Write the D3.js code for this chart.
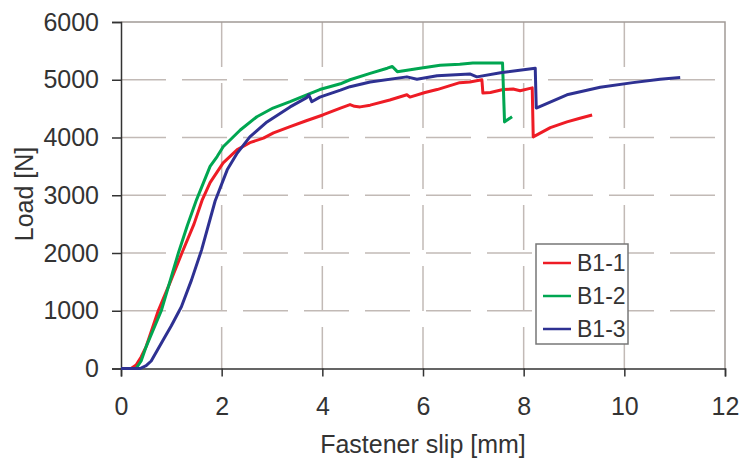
<!DOCTYPE html>
<html>
<head>
<meta charset="utf-8">
<script src="https://cdn.jsdelivr.net/npm/d3@7.9.0/dist/d3.min.js"></script>
<style>
  body { margin: 0; background: #fff; }
  svg { display: block; font-family: "Liberation Sans", Arial, sans-serif; }
  .tick text { fill: #333; font-size: 25px; }
</style>
</head>
<body>
<svg id="chart" width="742" height="459"></svg>
<script>
// series data: slip [mm] and load [N]
const seriesNames = ['B1-1', 'B1-2', 'B1-3'];
const seriesColors = ['#ee1c25', '#00a651', '#2e3192'];

const b11Slip = [0, 0.2, 0.3, 0.4, 0.5, 0.74, 0.98, 1.21, 1.45, 1.61, 1.77, 2.03, 2.31, 2.56, 2.83, 3.03, 3.36, 3.68, 4.01, 4.36, 4.55, 4.64, 4.75, 4.95, 5.34, 5.68, 5.74, 6.04, 6.28, 6.73, 6.93, 7.17, 7.19, 7.34, 7.59, 7.79, 7.93, 8.17, 8.19, 8.53, 8.86, 9.1, 9.36];
const b11Load = [0, 0, 60, 200, 380, 1000, 1500, 2000, 2500, 2910, 3220, 3560, 3790, 3910, 3990, 4080, 4190, 4290, 4390, 4510, 4570, 4540, 4530, 4560, 4650, 4740, 4700, 4780, 4830, 4950, 4960, 5000, 4770, 4780, 4830, 4840, 4810, 4860, 4010, 4170, 4270, 4330, 4390];

const b12Slip = [0, 0.3, 0.4, 0.5, 0.8, 1.14, 1.32, 1.5, 1.77, 1.91, 2.03, 2.37, 2.7, 3.02, 3.36, 3.69, 3.95, 4.36, 4.55, 4.95, 5.29, 5.39, 5.49, 5.94, 6.34, 6.73, 6.99, 7.58, 7.62, 7.65, 7.77];
const b12Load = [0, 0, 130, 380, 1000, 2000, 2480, 2920, 3500, 3670, 3840, 4130, 4360, 4510, 4620, 4740, 4830, 4930, 5000, 5110, 5200, 5230, 5140, 5200, 5250, 5270, 5290, 5290, 4270, 4290, 4360];

const b13Slip = [0, 0.38, 0.5, 0.6, 0.73, 0.86, 1.0, 1.2, 1.4, 1.6, 1.87, 2.11, 2.31, 2.56, 2.9, 3.36, 3.69, 3.73, 3.79, 3.95, 4.36, 4.55, 4.95, 5.68, 5.88, 6.28, 6.93, 7.07, 7.54, 8.23, 8.25, 8.86, 9.52, 10.17, 10.71, 11.11];
const b13Load = [0, 0, 50, 130, 330, 530, 740, 1070, 1530, 2050, 2900, 3440, 3730, 4010, 4270, 4530, 4690, 4740, 4620, 4700, 4820, 4880, 4960, 5050, 5010, 5070, 5100, 5050, 5120, 5200, 4510, 4740, 4870, 4950, 5010, 5040];

const xTicks = [0, 2, 4, 6, 8, 10, 12];
const yTicks = [0, 1000, 2000, 3000, 4000, 5000, 6000];

const svg = d3.select('#chart');
const plotL = 121, plotR = 725, plotT = 22, plotB = 368.5;

const x = d3.scaleLinear().domain([0, 12]).range([plotL, plotR]);
const y = d3.scaleLinear().domain([0, 6000]).range([plotB, plotT]);

// gridlines (dashed)
const grid = svg.append('g').attr('stroke', '#c2bab6').attr('stroke-width', 1.5)
  .attr('stroke-dasharray', '45,16').attr('fill', 'none');
yTicks.filter(v => v > 0 && v < 6000).forEach(v => {
  grid.append('line').attr('x1', plotL).attr('x2', plotR).attr('y1', y(v)).attr('y2', y(v));
});
xTicks.filter(v => v > 0 && v < 12).forEach(v => {
  grid.append('line').attr('y1', plotT).attr('y2', plotB).attr('x1', x(v)).attr('x2', x(v));
});

// plot frame (top & right)
svg.append('path')
  .attr('d', `M${plotL},${plotT}H${plotR}V${plotB}`)
  .attr('fill', 'none').attr('stroke', '#a19a97').attr('stroke-width', 1.5);

// axes
const xAxis = svg.append('g').attr('transform', `translate(0,${plotB})`)
  .call(d3.axisBottom(x).tickValues(xTicks).tickSize(8).tickPadding(21).tickFormat(d3.format('d')));
const yAxis = svg.append('g').attr('transform', `translate(${plotL},0)`)
  .call(d3.axisLeft(y).tickValues(yTicks).tickSize(9).tickPadding(13).tickFormat(d3.format('d')));
[xAxis, yAxis].forEach(a => {
  a.select('.domain').attr('stroke', '#333').attr('stroke-width', 1.5);
  a.selectAll('.tick line').attr('stroke', '#333').attr('stroke-width', 1.5);
  a.attr('font-family', null).attr('font-size', null);
});

// axis titles
svg.append('text').attr('x', 423).attr('y', 453).attr('text-anchor', 'middle')
  .attr('fill', '#333').attr('font-size', 25).text('Fastener slip [mm]');
svg.append('text').attr('transform', 'translate(33,194) rotate(-90)').attr('text-anchor', 'middle')
  .attr('fill', '#333').attr('font-size', 25).text('Load [N]');

// curves
const series = [
  { slip: b11Slip, load: b11Load },
  { slip: b12Slip, load: b12Load },
  { slip: b13Slip, load: b13Load }
];
const line = d3.line().x(d => x(d[0])).y(d => y(d[1]));
series.forEach((s, i) => {
  const pts = s.slip.map((v, j) => [v, s.load[j]]);
  svg.append('path').attr('d', line(pts)).attr('fill', 'none')
    .attr('stroke', seriesColors[i]).attr('stroke-width', 3).attr('stroke-linejoin', 'round');
});

// legend
const legend = svg.append('g').attr('transform', 'translate(536,244)');
legend.append('rect').attr('width', 92).attr('height', 100)
  .attr('fill', '#fff').attr('stroke', '#777').attr('stroke-width', 1.5);
seriesNames.forEach((name, i) => {
  const ly = 19 + i * 33;
  legend.append('line').attr('x1', 7).attr('x2', 35).attr('y1', ly).attr('y2', ly)
    .attr('stroke', seriesColors[i]).attr('stroke-width', 2.5);
  legend.append('text').attr('x', 41).attr('y', ly + 8).attr('fill', '#333')
    .attr('font-size', 23).text(name);
});
</script>
</body>
</html>
